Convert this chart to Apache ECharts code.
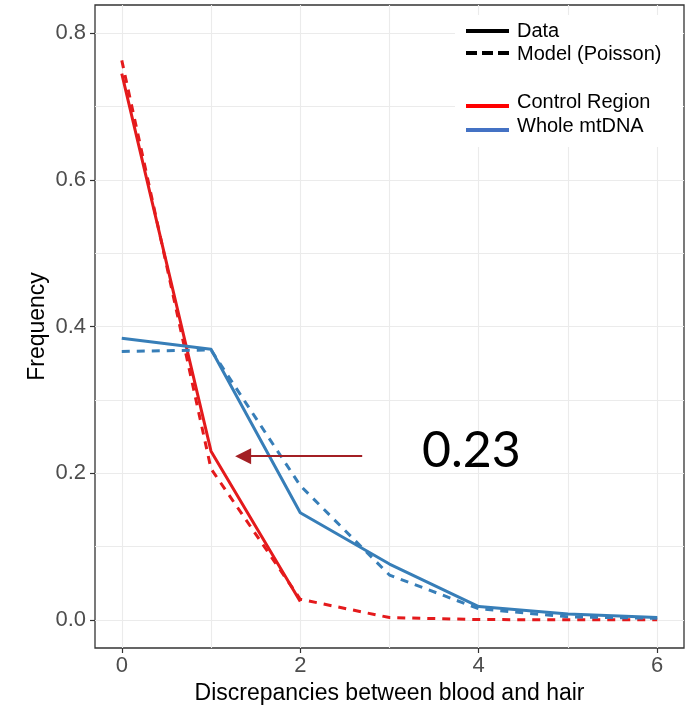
<!DOCTYPE html>
<html>
<head>
<meta charset="utf-8">
<script src="https://cdn.jsdelivr.net/npm/echarts@6/dist/echarts.min.js"></script>
<style>
  html, body { margin: 0; padding: 0; background: #fff; }
  #chart { width: 692px; height: 705px; }
</style>
</head>
<body>
<div id="chart"></div>
<script>
// Number of discrepancies (x) and observed / Poisson-model frequencies
const discrepancies = [0, 1, 2, 3, 4, 5, 6];
const controlData  = [0.745, 0.23, 0.025];
const controlModel = [0.763, 0.206, 0.028, 0.003, 0.0003, 0.0, 0.0];
const wholeData    = [0.384, 0.369, 0.146, 0.076, 0.018, 0.008, 0.003];
const wholeModel   = [0.366, 0.368, 0.183, 0.061, 0.015, 0.004, 0.002];

// Tick labels and grid-line positions
const xTicks = [0, 2, 4, 6];
const xGrid  = [0, 1, 2, 3, 4, 5, 6];
const yTicks = [0.0, 0.2, 0.4, 0.6, 0.8];
const yGrid  = [0.0, 0.1, 0.2, 0.3, 0.4, 0.5, 0.6, 0.7, 0.8];

const FONT = '"Liberation Sans", Arial, sans-serif';
const X_MIN = -0.3, X_MAX = 6.3;
const Y_MIN = -0.0385, Y_MAX = 0.8385;

const RED = '#E41A1C';
const BLUE = '#377EB8';
const DASH = [8, 7];

const pairs = ys => ys.map((y, i) => [discrepancies[i], y]);

function lineSeries(name, ys, color, dashed, extra) {
  return Object.assign({
    name: name,
    type: 'line',
    data: pairs(ys),
    xAxisIndex: 0,
    yAxisIndex: 0,
    showSymbol: false,
    symbol: 'none',
    silent: true,
    lineStyle: { color: color, width: 3, type: dashed ? DASH : 'solid', join: 'round' },
    z: 3
  }, extra || {});
}

const gridAxis = (vals) => ({
  type: 'value',
  axisLine: { show: false, onZero: false },
  axisTick: { show: false, customValues: vals },
  axisLabel: { show: false, customValues: vals },
  splitLine: { show: true, lineStyle: { color: '#EBEBEB', width: 1.1 } }
});

const chart = echarts.init(document.getElementById('chart'), null, { renderer: 'canvas' });

const option = {
  animation: false,
  backgroundColor: '#fff',
  grid: {
    left: 95, right: 8, top: 5, bottom: 57,
    show: true, borderColor: '#333333', borderWidth: 1.3, backgroundColor: '#fff',
    containLabel: false, outerBoundsMode: 'none'
  },
  xAxis: [
    Object.assign(gridAxis(xGrid), { min: X_MIN, max: X_MAX, position: 'bottom' }),
    {
      type: 'value', min: X_MIN, max: X_MAX, position: 'bottom',
      axisLine: { show: false, onZero: false },
      axisTick: { show: true, length: 5, customValues: xTicks, lineStyle: { color: '#333333', width: 1.2 } },
      axisLabel: { customValues: xTicks, fontSize: 22, color: '#4D4D4D', margin: 7, fontFamily: FONT,
                   formatter: v => String(v) },
      splitLine: { show: false },
      name: 'Discrepancies between blood and hair',
      nameLocation: 'middle', nameGap: 34, nameMoveOverlap: false,
      nameTextStyle: { fontSize: 23, color: '#000', fontFamily: FONT }
    }
  ],
  yAxis: [
    Object.assign(gridAxis(yGrid), { min: Y_MIN, max: Y_MAX, position: 'left' }),
    {
      type: 'value', min: Y_MIN, max: Y_MAX, position: 'left',
      axisLine: { show: false, onZero: false },
      axisTick: { show: true, length: 5, customValues: yTicks, lineStyle: { color: '#333333', width: 1.2 } },
      axisLabel: { customValues: yTicks, fontSize: 22, color: '#4D4D4D', margin: 9, fontFamily: FONT,
                   formatter: v => v.toFixed(1) },
      splitLine: { show: false },
      name: 'Frequency',
      nameLocation: 'middle', nameGap: 46, nameRotate: 90, nameMoveOverlap: false,
      nameTextStyle: { fontSize: 23, color: '#000', fontFamily: FONT }
    }
  ],
  series: [
    lineSeries('Control Region data', controlData, RED, false, {
      markLine: {
        silent: true,
        symbol: ['none', 'triangle'],
        symbolSize: 16,
        label: { show: false },
        lineStyle: { color: '#A31F24', width: 2, type: 'solid' },
        data: [[{ coord: [2.694, 0.2232] }, { coord: [1.36, 0.2232] }]]
      }
    }),
    lineSeries('Control Region model', controlModel, RED, true),
    lineSeries('Whole mtDNA data', wholeData, BLUE, false),
    lineSeries('Whole mtDNA model', wholeModel, BLUE, true)
  ],
  graphic: [
    // legend panel
    { type: 'rect', shape: { x: 455, y: 15, width: 228, height: 132 }, style: { fill: '#fff' }, z: 1, silent: true },
    { type: 'line', shape: { x1: 466, y1: 31, x2: 509, y2: 31 }, style: { stroke: '#000', lineWidth: 4 }, z: 5 },
    { type: 'line', shape: { x1: 466, y1: 53, x2: 509, y2: 53 }, style: { stroke: '#000', lineWidth: 4, lineDash: [11, 5] }, z: 5 },
    { type: 'line', shape: { x1: 466, y1: 106, x2: 509, y2: 106 }, style: { stroke: '#FF0000', lineWidth: 4 }, z: 5 },
    { type: 'line', shape: { x1: 466, y1: 130, x2: 509, y2: 130 }, style: { stroke: '#4472C4', lineWidth: 4 }, z: 5 },
    { type: 'text', x: 517, y: 31, style: { text: 'Data', font: '20px ' + FONT, fill: '#000', verticalAlign: 'middle' }, z: 5 },
    { type: 'text', x: 517, y: 54, style: { text: 'Model (Poisson)', font: '20px ' + FONT, fill: '#000', verticalAlign: 'middle' }, z: 5 },
    { type: 'text', x: 517, y: 102, style: { text: 'Control Region', font: '20px ' + FONT, fill: '#000', verticalAlign: 'middle' }, z: 5 },
    { type: 'text', x: 517, y: 126, style: { text: 'Whole mtDNA', font: '20px ' + FONT, fill: '#000', verticalAlign: 'middle' }, z: 5 },
    // value callout for the Control Region frequency at one discrepancy
    { type: 'text', x: 422, y: 451, style: { text: controlData[1].toFixed(2), font: '50px Lato, "Open Sans", sans-serif', fill: '#000', verticalAlign: 'middle' }, z: 5 }
  ]
};

chart.setOption(option);
</script>
</body>
</html>
